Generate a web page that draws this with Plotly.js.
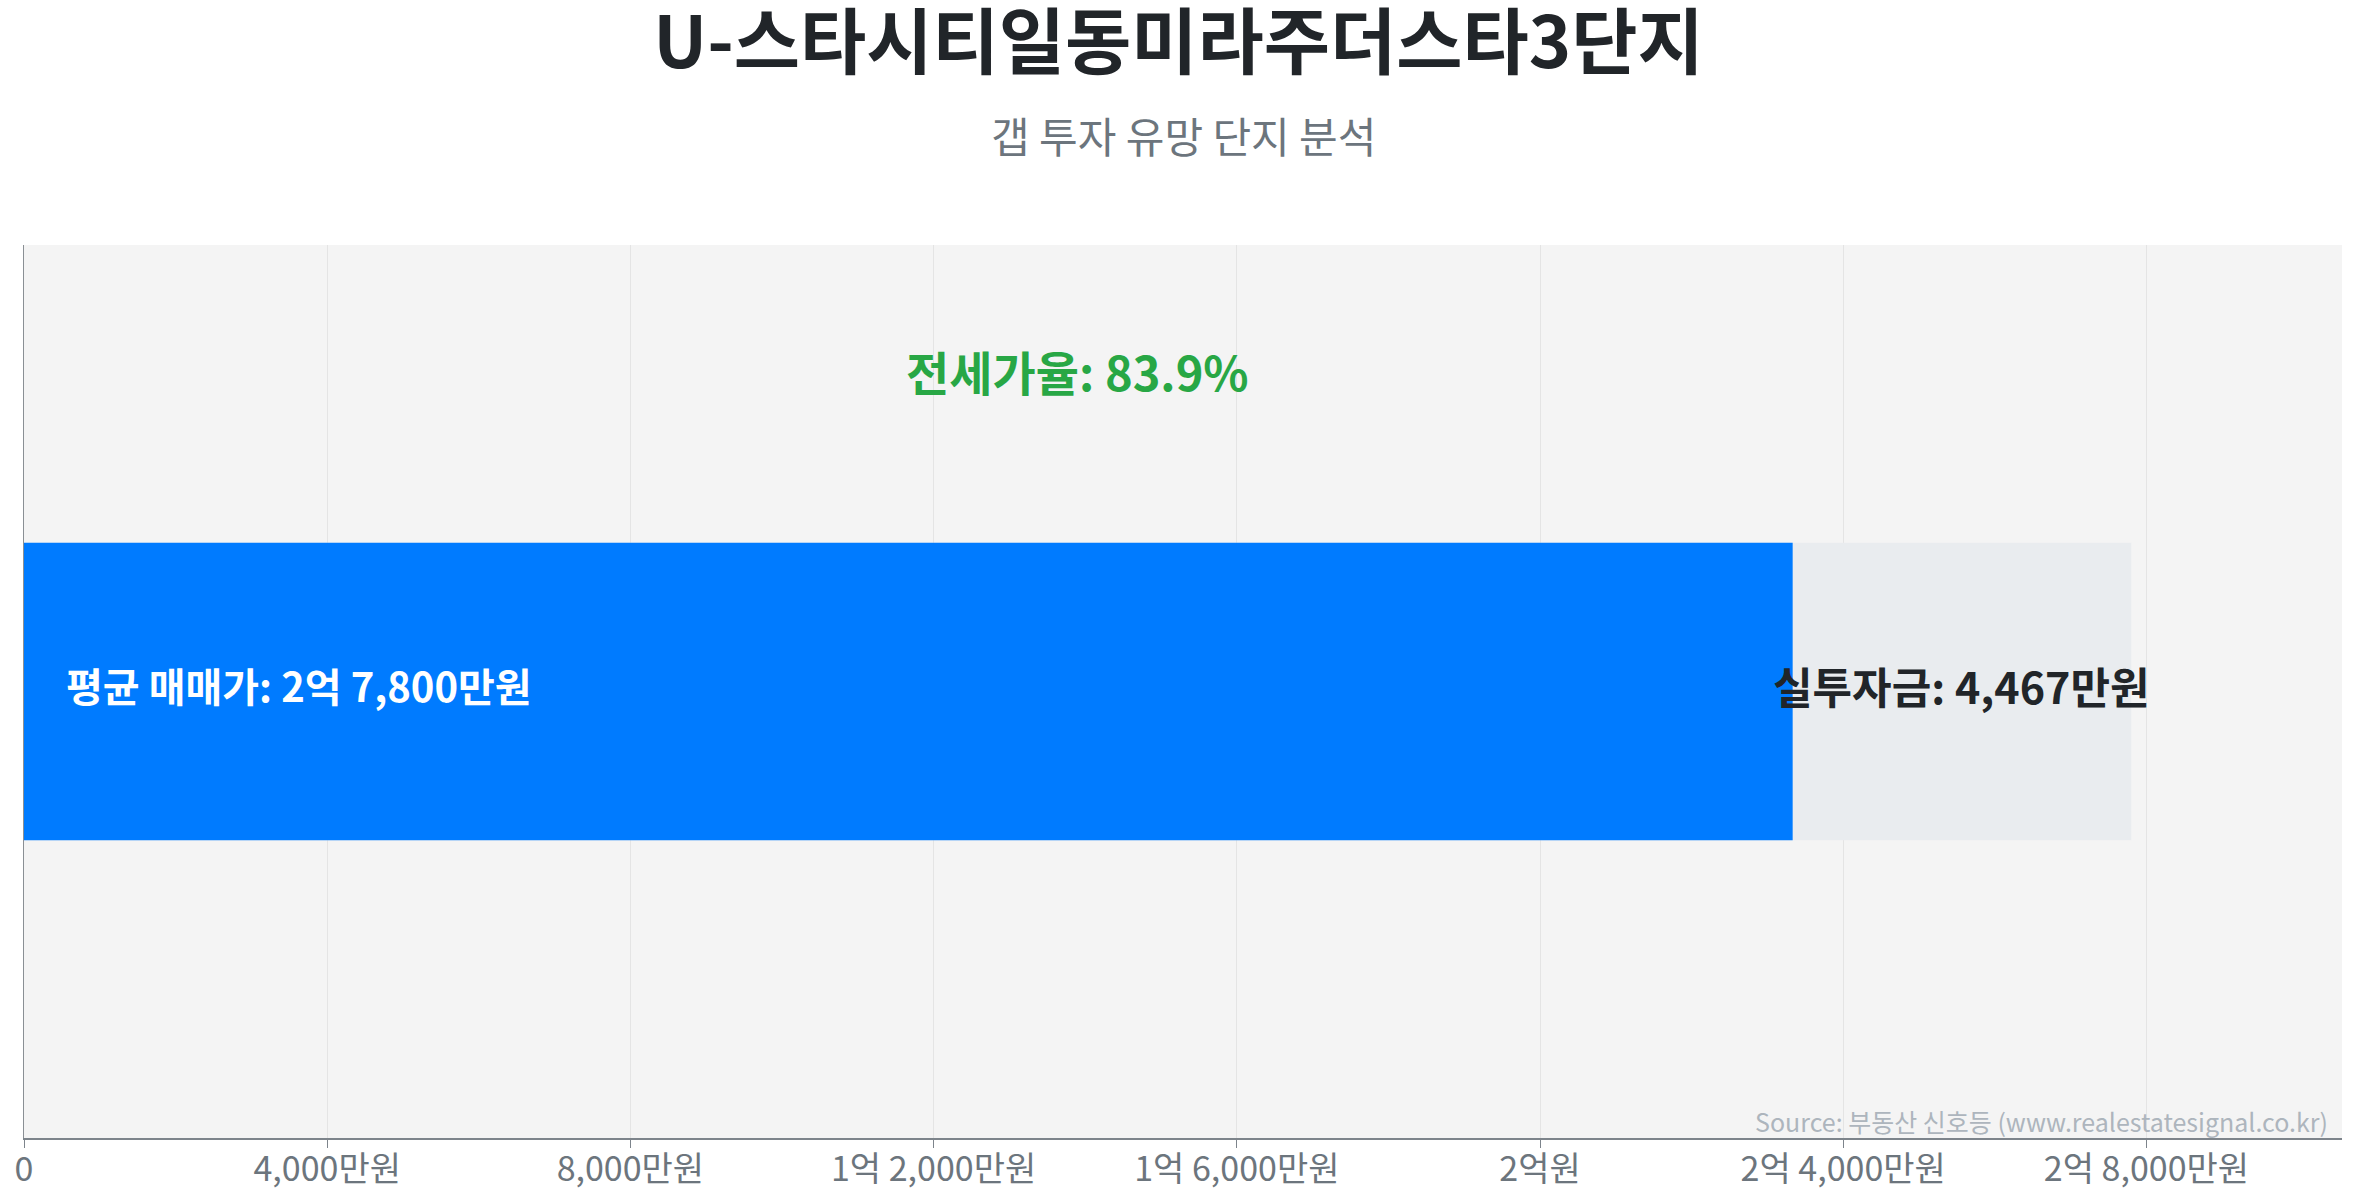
<!DOCTYPE html>
<html>
<head>
<meta charset="utf-8">
<script src="https://cdn.plot.ly/plotly-3.0.1.min.js"></script>
<style>
  html, body { margin: 0; padding: 0; background: #fff; }
  #chart { width: 2357px; height: 1200px; }
</style>
</head>
<body>
<div id="chart"></div>
<script>
// values in 만원
var complexName = "U-스타시티일동미라주더스타3단지";
var categories = ["단지"];
var salePrice = [27800];
var jeonsePrice = [23333];
var jeonseRatio = [83.9];
var tickValues = [0, 4000, 8000, 12000, 16000, 20000, 24000, 28000];
var tickLabels = ["0", "4,000만원", "8,000만원", "1억 2,000만원", "1억 6,000만원", "2억원", "2억 4,000만원", "2억 8,000만원"];

var FONT = "'Noto Sans CJK KR', 'Noto Sans', sans-serif";

function fmt(n) {
  return n.toString().replace(/\B(?=(\d{3})+(?!\d))/g, ",");
}
function toKorean(n) {
  var eok = Math.floor(n / 10000), man = n % 10000;
  if (eok > 0 && man > 0) return eok + "억 " + fmt(man) + "만원";
  if (eok > 0) return eok + "억원";
  return fmt(man) + "만원";
}

window.onload = function() {
  var gap = salePrice[0] - jeonsePrice[0];

  var traces = [
    {
      type: "bar",
      orientation: "h",
      y: categories,
      x: salePrice,
      width: 0.333,
      marker: { color: "#e9ecef" },
      hoverinfo: "skip"
    },
    {
      type: "bar",
      orientation: "h",
      y: categories,
      x: jeonsePrice,
      width: 0.333,
      marker: { color: "#007bff" },
      hoverinfo: "skip"
    }
  ];

  var layout = {
    width: 2357,
    height: 1200,
    barmode: "overlay",
    showlegend: false,
    paper_bgcolor: "#ffffff",
    plot_bgcolor: "#f4f4f4",
    margin: { l: 24, r: 15, t: 245, b: 62 },
    font: { family: FONT, color: "#212529" },
    title: {
      text: complexName,
      font: { family: FONT, size: 72, weight: 700, color: "#212529" },
      x: 0.5,
      xanchor: "center",
      yref: "container",
      y: 0.964,
      yanchor: "middle"
    },
    xaxis: {
      range: [0, salePrice[0] * 1.1],
      tickmode: "array",
      tickvals: tickValues,
      ticktext: tickLabels,
      tickfont: { family: FONT, size: 34, color: "#6c757d" },
      ticklabelstandoff: -8,
      showgrid: true,
      gridcolor: "#e4e4e4",
      gridwidth: 1,
      zeroline: false,
      showline: true,
      linecolor: "#7d848b",
      linewidth: 2,
      ticks: "outside",
      ticklen: 8,
      tickcolor: "#7d848b",
      fixedrange: true
    },
    yaxis: {
      type: "category",
      range: [-0.5, 0.5],
      showticklabels: false,
      showgrid: false,
      zeroline: false,
      showline: true,
      linecolor: "#8a8f94",
      linewidth: 1,
      ticks: "",
      fixedrange: true
    },
    annotations: [
      {
        xref: "paper", yref: "paper",
        x: 0.5, y: 1.124,
        xanchor: "center", yanchor: "middle",
        text: "갭 투자 유망 단지 분석",
        showarrow: false,
        font: { family: FONT, size: 42, color: "#6c757d" }
      },
      {
        xref: "x", yref: "paper",
        x: salePrice[0] / 2, y: 0.859,
        xanchor: "center", yanchor: "middle",
        text: "전세가율: " + jeonseRatio[0].toFixed(1) + "%",
        showarrow: false,
        font: { family: FONT, size: 47, weight: 700, color: "#28a745" }
      },
      {
        xref: "x", yref: "y",
        x: 0, y: categories[0],
        xanchor: "left", yanchor: "middle",
        xshift: 40, yshift: 7,
        text: "평균 매매가: " + toKorean(salePrice[0]),
        showarrow: false,
        font: { family: FONT, size: 40, weight: 700, color: "#ffffff" }
      },
      {
        xref: "x", yref: "y",
        x: (salePrice[0] + jeonsePrice[0]) / 2, y: categories[0],
        xanchor: "center", yanchor: "middle",
        yshift: 7,
        text: "실투자금: " + fmt(gap) + "만원",
        showarrow: false,
        font: { family: FONT, size: 43, weight: 700, color: "#212529" }
      },
      {
        xref: "paper", yref: "paper",
        x: 0.995, y: 0.019,
        xanchor: "right", yanchor: "middle",
        text: "Source: 부동산 신호등 (www.realestatesignal.co.kr)",
        showarrow: false,
        font: { family: FONT, size: 25, color: "#adb5bd" }
      }
    ]
  };

  Plotly.newPlot("chart", traces, layout, { displayModeBar: false, staticPlot: true });
};
</script>
</body>
</html>
